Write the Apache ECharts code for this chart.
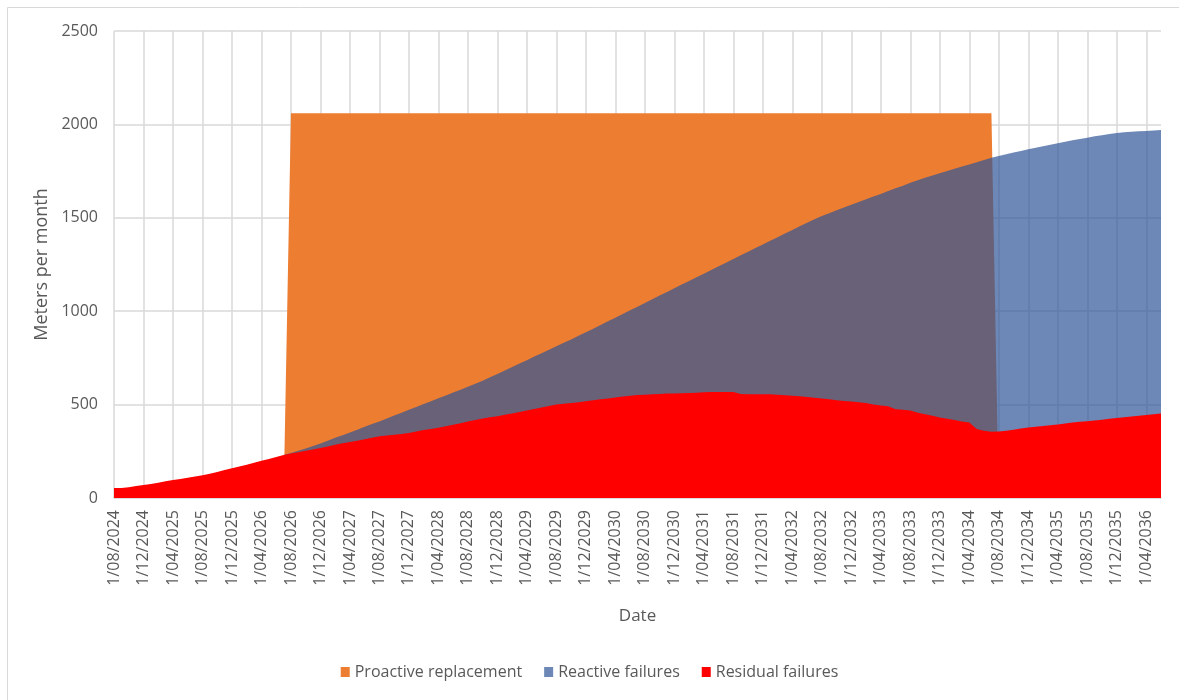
<!DOCTYPE html>
<html>
<head>
<meta charset="utf-8">
<script src="https://cdn.jsdelivr.net/npm/echarts@6/dist/echarts.min.js"></script>
<style>
html,body{margin:0;padding:0;background:#fff;}
#chart{width:1179px;height:700px;}
</style>
</head>
<body>
<div id="chart"></div>
<script>
// Monthly categories from 1/08/2024 to 1/06/2036
const categories = [];
for (let i = 0; i < 143; i++) {
  const m = (7 + i) % 12 + 1;
  const y = 2024 + Math.floor((7 + i) / 12);
  categories.push('1/' + String(m).padStart(2, '0') + '/' + y);
}

const seriesNames = ['Proactive replacement', 'Reactive failures', 'Residual failures'];

const proactive = [
  0,0,0,0,0,0,0,0,0,0,
  0,0,0,0,0,0,0,0,0,0,
  0,0,0,0,2060,2060,2060,2060,2060,2060,
  2060,2060,2060,2060,2060,2060,2060,2060,2060,2060,
  2060,2060,2060,2060,2060,2060,2060,2060,2060,2060,
  2060,2060,2060,2060,2060,2060,2060,2060,2060,2060,
  2060,2060,2060,2060,2060,2060,2060,2060,2060,2060,
  2060,2060,2060,2060,2060,2060,2060,2060,2060,2060,
  2060,2060,2060,2060,2060,2060,2060,2060,2060,2060,
  2060,2060,2060,2060,2060,2060,2060,2060,2060,2060,
  2060,2060,2060,2060,2060,2060,2060,2060,2060,2060,
  2060,2060,2060,2060,2060,2060,2060,2060,2060,2060,
  0,0,0,0,0,0,0,0,0,0,
  0,0,0,0,0,0,0,0,0,0,
  0,0,0
];

const reactive = [
  null,null,null,null,null,null,null,null,null,null,
  null,null,null,null,null,null,null,null,null,null,
  null,null,null,230,241,253,265,278,292,307,
  322,336,351,366,381,396,410,425,441,456,
  472,487,503,518,534,549,565,580,596,612,
  628,646,664,683,701,720,738,757,775,794,
  812,831,849,868,887,906,926,946,965,985,
  1005,1024,1044,1064,1084,1103,1123,1143,1162,1182,
  1201,1221,1240,1260,1279,1299,1318,1338,1357,1377,
  1396,1416,1435,1455,1474,1492,1509,1525,1540,1555,
  1570,1585,1599,1614,1628,1643,1658,1672,1687,1701,
  1714,1727,1739,1751,1763,1775,1786,1798,1810,1821,
  1831,1840,1849,1858,1867,1875,1883,1891,1899,1907,
  1915,1922,1929,1936,1942,1948,1954,1958,1961,1963,
  1965,1968,1970
];

const residual = [
  53,54,58,64,70,75,82,90,96,102,
  108,115,122,130,139,150,159,168,178,189,
  199,209,220,230,238,245,253,260,268,276,
  285,293,300,307,314,322,330,335,338,343,
  348,356,364,370,376,384,392,400,410,418,
  425,432,438,445,452,460,468,476,484,492,
  500,505,508,512,518,523,528,533,538,543,
  548,551,553,555,557,559,560,561,562,564,
  566,567,568,568,567,557,556,556,556,555,
  553,550,547,545,541,537,533,528,523,519,
  516,512,508,500,495,491,475,472,469,457,
  449,440,431,424,418,410,404,370,360,355,
  356,360,366,372,377,381,386,390,394,399,
  404,408,411,415,419,424,428,432,436,440,
  444,448,452
];

const yTicks = [0, 500, 1000, 1500, 2000, 2500];

const FONT = "'Open Sans', 'Noto Sans', sans-serif";
const TXT = '#595959';
const GRID = '#D9D9D9';

const chart = echarts.init(document.getElementById('chart'), null, {renderer: 'canvas'});

function areaSeries(name, data, color, z) {
  return {
    name: name,
    type: 'line',
    data: data,
    z: z,
    showSymbol: false,
    symbol: 'none',
    silent: true,
    itemStyle: {color: color},
    lineStyle: {width: 0, color: color},
    areaStyle: {color: color, opacity: 1},
    animation: false
  };
}

chart.setOption({
  animation: false,
  backgroundColor: '#ffffff',
  graphic: [{
    type: 'rect',
    shape: {x: 7.5, y: 7.5, width: 1200, height: 720},
    style: {fill: 'none', stroke: '#D9D9D9', lineWidth: 1},
    silent: true
  }],
  grid: {left: 114, right: 18, top: 31, bottom: 202, containLabel: false},
  legend: {
    data: seriesNames,
    bottom: 15,
    left: 'center',
    icon: 'rect',
    itemWidth: 9,
    itemHeight: 10,
    itemGap: 22,
    textStyle: {color: TXT, fontSize: 16, fontFamily: FONT, padding: [0, 0, 0, 0]}
  },
  xAxis: {
    type: 'category',
    data: categories,
    boundaryGap: false,
    name: 'Date',
    nameLocation: 'middle',
    nameGap: 110,
    nameTextStyle: {color: TXT, fontSize: 17, fontFamily: FONT},
    axisLine: {show: true, lineStyle: {color: GRID, width: 1.5}},
    axisTick: {show: false},
    axisLabel: {
      interval: 3,
      rotate: 90,
      margin: 12,
      color: TXT,
      fontSize: 16,
      fontFamily: FONT
    },
    splitLine: {show: true, interval: 3, lineStyle: {color: GRID, width: 1.5}}
  },
  yAxis: {
    type: 'value',
    min: yTicks[0],
    max: yTicks[yTicks.length - 1],
    interval: 500,
    name: 'Meters per month',
    nameLocation: 'middle',
    nameGap: 56,
    nameTextStyle: {color: TXT, fontSize: 18, fontFamily: FONT},
    axisLine: {show: false},
    axisTick: {show: false},
    axisLabel: {margin: 16, color: TXT, fontSize: 16, fontFamily: FONT, formatter: function (v) { return String(v); }},
    splitLine: {show: true, lineStyle: {color: GRID, width: 1.5}}
  },
  series: [
    areaSeries(seriesNames[0], proactive, '#ED7D31', 2),
    areaSeries(seriesNames[1], reactive, 'rgba(47,85,151,0.7)', 3),
    areaSeries(seriesNames[2], residual, '#FF0000', 4)
  ]
});
</script>
</body>
</html>
